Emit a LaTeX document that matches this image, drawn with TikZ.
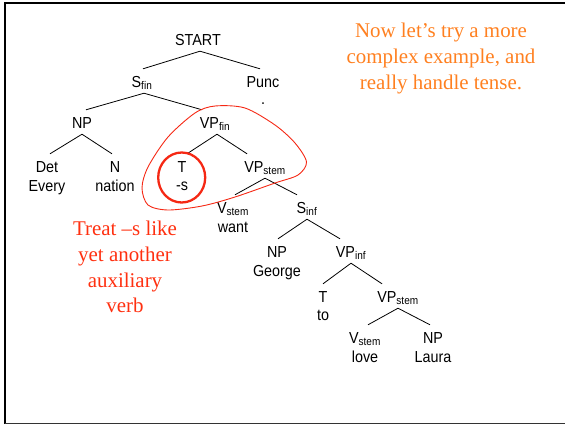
\documentclass[tikz,border=0pt]{standalone}
\usepackage{fontspec}
\setmainfont{Liberation Sans}[FakeStretch=0.9]
\newfontfamily\notefont{Liberation Serif}
\definecolor{noteorange}{RGB}{255,128,32}
\definecolor{notered}{RGB}{255,48,16}
\definecolor{markred}{RGB}{245,40,20}
\newcommand{\sbs}[1]{\textsubscript{#1}}

\begin{document}
\begin{tikzpicture}[x=1bp,y=1bp,
  cat/.style={anchor=base, font=\fontsize{16}{19}\selectfont, inner xsep=0pt,
              inner ysep=6bp, text height=12bp, text depth=0bp},
  word/.style={anchor=base, font=\fontsize{16}{19}\selectfont, inner sep=0pt},
  branch/.style={line width=0.8bp},
  note/.style={anchor=north, align=center, inner sep=0pt,
               font=\notefont\fontsize{21}{26}\selectfont}
]
\useasboundingbox (0,0) rectangle (565,-426);

% slide frame (open on the right)
\draw[line width=2bp] (565,-2.5) -- (4.5,-2.5) -- (4.5,-423.5);
\draw[line width=1.5bp, black!80] (4.5,-423.5) -- (565,-423.5);

% category labels
\node[cat] (start)  at (198,-45)  {START};
\node[cat] (sfin)   at (142,-87)  {S\sbs{fin}};
\node[cat] (punc)   at (263,-87)  {Punc};
\node[cat] (np)     at (82,-128)  {NP};
\node[cat] (vpfin)  at (215,-128) {VP\sbs{fin}};
\node[cat] (det)    at (47,-172)  {Det};
\node[cat] (n)      at (115,-172) {N};
\node[cat] (t)      at (182,-172) {T};
\node[cat] (vpstem) at (265,-172) {VP\sbs{stem}};
\node[cat] (vstem)  at (233,-213) {V\sbs{stem}};
\node[cat] (sinf)   at (307,-213) {S\sbs{inf}};
\node[cat] (npb)    at (277,-257) {NP};
\node[cat] (vpinf)  at (351,-257) {VP\sbs{inf}};
\node[cat] (tb)     at (323,-302) {T};
\node[cat] (vpstemb) at (398,-302) {VP\sbs{stem}};
\node[cat] (vstemb) at (365,-343) {V\sbs{stem}};
\node[cat] (npc)    at (433,-343) {NP};

% words
\node[word] (wdot)    at (263,-104) {.};
\node[word] (wevery)  at (47,-191)  {Every};
\node[word] (wnation) at (115,-191) {nation};
\node[word] (ws)      at (182,-190) {-s};
\node[word] (wwant)   at (233,-232) {want};
\node[word] (wgeorge) at (277,-276) {George};
\node[word] (wto)     at (323,-320) {to};
\node[word] (wlove)   at (365,-362) {love};
\node[word] (wlaura)  at (433,-362) {Laura};

% branches
\draw[branch] ([xshift=2]start.south)  -- ([xshift=1]sfin.north);
\draw[branch] ([xshift=2]start.south)  -- ([xshift=-3]punc.north);
\draw[branch] ([xshift=2]sfin.south)   -- ([xshift=4]np.north);
\draw[branch] ([xshift=2]sfin.south)   -- ([xshift=-13]vpfin.north);
\draw[branch] (np.south)               -- ([xshift=3]det.north);
\draw[branch] (np.south)               -- ([xshift=-3]n.north);
\draw[branch] ([xshift=2]vpfin.south)  -- ([xshift=5]t.north);
\draw[branch] ([xshift=2]vpfin.south)  -- ([xshift=-18]vpstem.north);
\draw[branch] (vpstem.south)           -- ([xshift=2]vstem.north);
\draw[branch] (vpstem.south)           -- ([xshift=-10]sinf.north);
\draw[branch] (sinf.south)             -- ([xshift=1]npb.north);
\draw[branch] (sinf.south)             -- ([xshift=-11]vpinf.north);
\draw[branch] (vpinf.south)            -- (tb.north);
\draw[branch] (vpinf.south)            -- ([xshift=-16]vpstemb.north);
\draw[branch] (vpstemb.south)          -- ([xshift=3]vstemb.north);
\draw[branch] (vpstemb.south)          -- ([xshift=-3]npc.north);

% red marks: loop round the finite VP, circle round T
\draw[markred, line width=0.9bp] plot[smooth cycle] coordinates {
  (215,-106) (245,-108) (275,-125) (295,-143) (306.5,-162) (298,-175)
  (275,-183) (235,-197) (202,-206) (168,-210) (148,-205) (142,-188)
  (148,-167) (168,-137) (195,-113)};
\draw[markred, line width=2.3bp] (181.7,-177.5) ellipse [x radius=23.5, y radius=25];

% notes
\node[note, text=noteorange] (intro) at (441,-22.5)
  {Now let’s try a more\\complex example, and\\really handle tense.};
\node[note, text=notered] (hint) at (125,-220.5)
  {Treat –s like\\yet another\\auxiliary\\verb};
\end{tikzpicture}
\end{document}
